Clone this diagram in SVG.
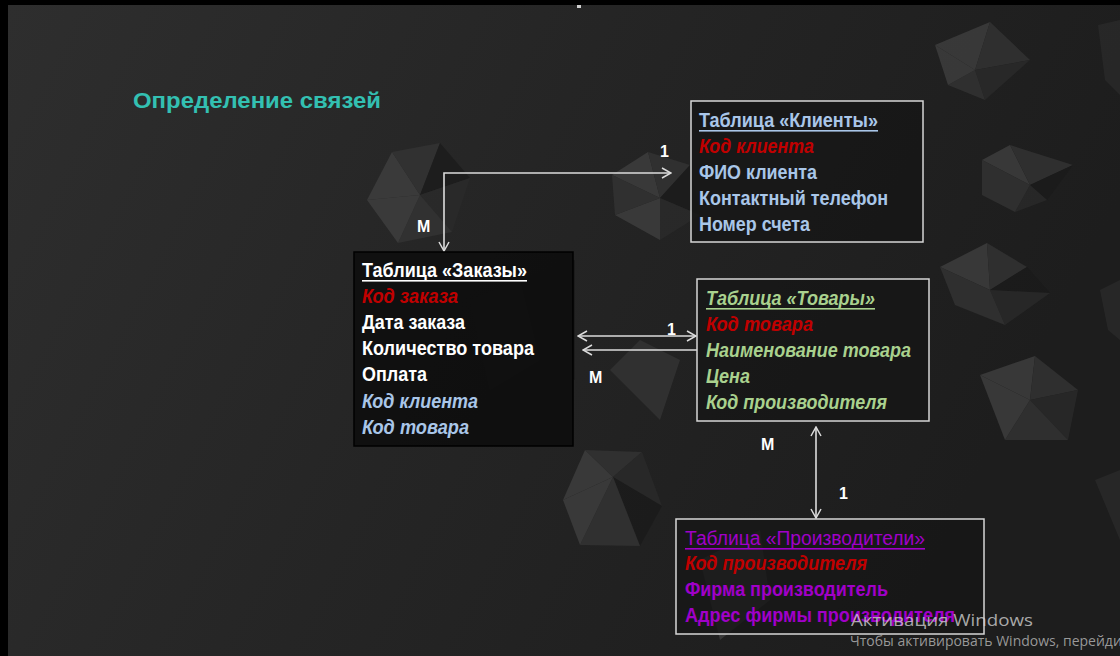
<svg xmlns="http://www.w3.org/2000/svg" width="1120" height="656" viewBox="0 0 1120 656">
<defs>
<linearGradient id="bg" x1="0" y1="0" x2="1" y2="0.3">
<stop offset="0" stop-color="#2e2e2e"/>
<stop offset="0.5" stop-color="#252525"/>
<stop offset="1" stop-color="#1d1d1d"/>
</linearGradient>
<marker id="arr" viewBox="0 0 12 12" markerWidth="12" markerHeight="12" refX="11" refY="6" orient="auto-start-reverse" markerUnits="userSpaceOnUse">
<path d="M2,1 L11,6 L2,11" fill="none" stroke="#dcdcdc" stroke-width="1.5"/>
</marker>
<style>
.t{font-family:"Liberation Sans",Arial,sans-serif;font-weight:bold;font-size:20px}
.i{font-style:italic}
.red{fill:#c00000}
.wh{fill:#ffffff}
.lb{fill:#a9c6e8}
.gr{fill:#a9d18e}
.pu{fill:#a000c8}
.lbl{font-family:"Liberation Sans",Arial,sans-serif;font-weight:bold;font-size:16px;fill:#ffffff}
.ln{fill:none;stroke:#dcdcdc;stroke-width:1.6}
.pl{fill:#414141}
.pm{fill:#353535}
.pd{fill:#1a1a1a}
.pk{fill:#2b2b2b}
</style>
</defs>
<rect x="0" y="0" width="1120" height="656" fill="#000"/>
<rect x="8" y="5" width="1112" height="651" fill="url(#bg)"/>
<rect x="577" y="5" width="4" height="3" fill="#cfcfcf"/>

<g id="background" opacity="0.75">
<polygon class="pl" points="392,152 420,195 367,200"/>
<polygon class="pm" points="392,152 440,143 420,195"/>
<polygon class="pd" points="440,143 470,178 420,195"/>
<polygon class="pk" points="470,178 452,232 420,195"/>
<polygon class="pm" points="452,232 398,243 420,195"/>
<polygon class="pl" points="398,243 367,200 420,195"/>

<polygon class="pl" points="612,175 648,152 660,198"/>
<polygon class="pm" points="648,152 690,165 660,198"/>
<polygon class="pd" points="690,165 700,215 660,198"/>
<polygon class="pk" points="700,215 660,240 660,198"/>
<polygon class="pl" points="660,240 615,215 660,198"/>
<polygon class="pm" points="615,215 612,175 660,198"/>

<polygon class="pl" points="563,500 585,450 613,477"/>
<polygon class="pm" points="585,450 642,452 613,477"/>
<polygon class="pk" points="642,452 662,506 613,477"/>
<polygon class="pd" points="662,506 640,546 613,477"/>
<polygon class="pm" points="640,546 580,545 613,477"/>
<polygon class="pl" points="580,545 563,500 613,477"/>

<polygon class="pd" points="520,280 575,260 575,380 540,360"/>
<polygon class="pk" points="470,300 520,280 540,360 490,390"/>
<polygon class="pm" points="610,370 640,340 680,360 660,420"/>

<polygon class="pl" points="935,45 990,22 975,70"/>
<polygon class="pm" points="990,22 1030,60 975,70"/>
<polygon class="pk" points="1030,60 985,100 975,70"/>
<polygon class="pm" points="985,100 948,85 975,70"/>
<polygon class="pl" points="948,85 935,45 975,70"/>

<polygon class="pl" points="982,160 1010,145 1030,185"/>
<polygon class="pm" points="1010,145 1073,165 1030,185"/>
<polygon class="pd" points="1073,165 1047,200 1030,185"/>
<polygon class="pk" points="1047,200 1015,212 1030,185"/>
<polygon class="pm" points="1015,212 982,195 982,160 1030,185"/>

<polygon class="pl" points="940,267 987,243 990,290"/>
<polygon class="pm" points="987,243 1027,267 990,290"/>
<polygon class="pd" points="1027,267 1050,293 990,290"/>
<polygon class="pk" points="1050,293 1005,325 990,290"/>
<polygon class="pm" points="1005,325 955,305 940,267 990,290"/>

<polygon class="pl" points="980,375 1035,356 1030,400"/>
<polygon class="pm" points="1035,356 1078,390 1030,400"/>
<polygon class="pk" points="1078,390 1068,440 1030,400"/>
<polygon class="pm" points="1068,440 1005,440 1030,400"/>
<polygon class="pl" points="1005,440 980,375 1030,400"/>

<polygon class="pk" points="1098,25 1120,20 1120,95 1105,80"/>
<polygon class="pk" points="1100,290 1120,280 1120,340 1108,330"/>
<polygon class="pk" points="1095,480 1120,470 1120,540"/>
<polygon class="pl" points="700,560 760,530 770,600 720,640"/>
</g>

<text x="133" y="108" font-family="Liberation Sans,Arial,sans-serif" font-weight="bold" font-size="22" fill="#33c0b2" textLength="248" lengthAdjust="spacingAndGlyphs">Определение связей</text>

<g id="connectors">
<path class="ln" d="M444,251 V173 H671" marker-start="url(#arr)" marker-end="url(#arr)"/>
<path class="ln" d="M578,336 H696" marker-start="url(#arr)" marker-end="url(#arr)"/>
<path class="ln" d="M583,350 H697" marker-start="url(#arr)"/>
<path class="ln" d="M816,427 V518" marker-start="url(#arr)" marker-end="url(#arr)"/>
<text class="lbl" x="660" y="157">1</text>
<text class="lbl" x="417" y="232">М</text>
<text class="lbl" x="667" y="335">1</text>
<text class="lbl" x="589" y="383">М</text>
<text class="lbl" x="761" y="450">М</text>
<text class="lbl" x="839" y="499">1</text>
</g>

<g id="clients">
<rect x="691" y="101" width="232" height="141" fill="#161616" fill-opacity="0.85" stroke="#d6d6d6" stroke-width="1.5"/>
<text class="t lb" x="699" y="127" textLength="179" lengthAdjust="spacingAndGlyphs">Таблица «Клиенты»</text>
<rect x="699" y="130" width="179" height="1.6" fill="#a9c6e8"/>
<text class="t i red" x="699" y="153" textLength="115" lengthAdjust="spacingAndGlyphs">Код клиента</text>
<text class="t lb" x="699" y="179" textLength="118" lengthAdjust="spacingAndGlyphs">ФИО клиента</text>
<text class="t lb" x="699" y="205" textLength="189" lengthAdjust="spacingAndGlyphs">Контактный телефон</text>
<text class="t lb" x="699" y="231" textLength="111" lengthAdjust="spacingAndGlyphs">Номер счета</text>
</g>

<g id="orders">
<rect x="354" y="252" width="219" height="194" fill="#0e0e0e" fill-opacity="0.92" stroke="#000" stroke-width="1.5"/>
<text class="t wh" x="362" y="277" textLength="165" lengthAdjust="spacingAndGlyphs">Таблица «Заказы»</text>
<rect x="362" y="280" width="165" height="1.6" fill="#ffffff"/>
<text class="t i red" x="362" y="303" textLength="96" lengthAdjust="spacingAndGlyphs">Код заказа</text>
<text class="t wh" x="362" y="329" textLength="103" lengthAdjust="spacingAndGlyphs">Дата заказа</text>
<text class="t wh" x="362" y="355" textLength="172" lengthAdjust="spacingAndGlyphs">Количество товара</text>
<text class="t wh" x="362" y="381" textLength="65" lengthAdjust="spacingAndGlyphs">Оплата</text>
<text class="t i lb" x="362" y="408" textLength="116" lengthAdjust="spacingAndGlyphs">Код клиента</text>
<text class="t i lb" x="362" y="434" textLength="107" lengthAdjust="spacingAndGlyphs">Код товара</text>
</g>

<g id="products">
<rect x="697" y="279" width="232" height="142" fill="#161616" fill-opacity="0.85" stroke="#d6d6d6" stroke-width="1.5"/>
<text class="t i gr" x="706" y="305" textLength="169" lengthAdjust="spacingAndGlyphs">Таблица «Товары»</text>
<rect x="706" y="308" width="169" height="1.6" fill="#a9d18e"/>
<text class="t i red" x="706" y="331" textLength="107" lengthAdjust="spacingAndGlyphs">Код товара</text>
<text class="t i gr" x="706" y="357" textLength="205" lengthAdjust="spacingAndGlyphs">Наименование товара</text>
<text class="t i gr" x="706" y="383" textLength="44" lengthAdjust="spacingAndGlyphs">Цена</text>
<text class="t i gr" x="706" y="409" textLength="181" lengthAdjust="spacingAndGlyphs">Код производителя</text>
</g>

<g id="manufacturers">
<rect x="676" y="519" width="308" height="115" fill="#161616" fill-opacity="0.8" stroke="#d6d6d6" stroke-width="1.5"/>
<text x="685" y="545" font-family="Liberation Sans,Arial,sans-serif" font-size="20" fill="#a000c8" textLength="240" lengthAdjust="spacingAndGlyphs">Таблица «Производители»</text>
<rect x="685" y="548" width="240" height="1.6" fill="#a000c8"/>
<text class="t i red" x="685" y="570" textLength="182" lengthAdjust="spacingAndGlyphs">Код производителя</text>
<text class="t pu" x="685" y="596" textLength="203" lengthAdjust="spacingAndGlyphs">Фирма производитель</text>
<text class="t pu" x="685" y="622" textLength="270" lengthAdjust="spacingAndGlyphs">Адрес фирмы производителя</text>
</g>

<g id="watermark">
<text x="851" y="626" font-family="Open Sans,Noto Sans,sans-serif" font-size="17" fill="#cfcfcf" fill-opacity="0.8" textLength="182" lengthAdjust="spacingAndGlyphs">Активация Windows</text>
<text x="850" y="646" font-family="Open Sans,Noto Sans,sans-serif" font-size="14" fill="#b0b0b0" fill-opacity="0.85">Чтобы активировать Windows, перейдите</text>
</g>
</svg>
